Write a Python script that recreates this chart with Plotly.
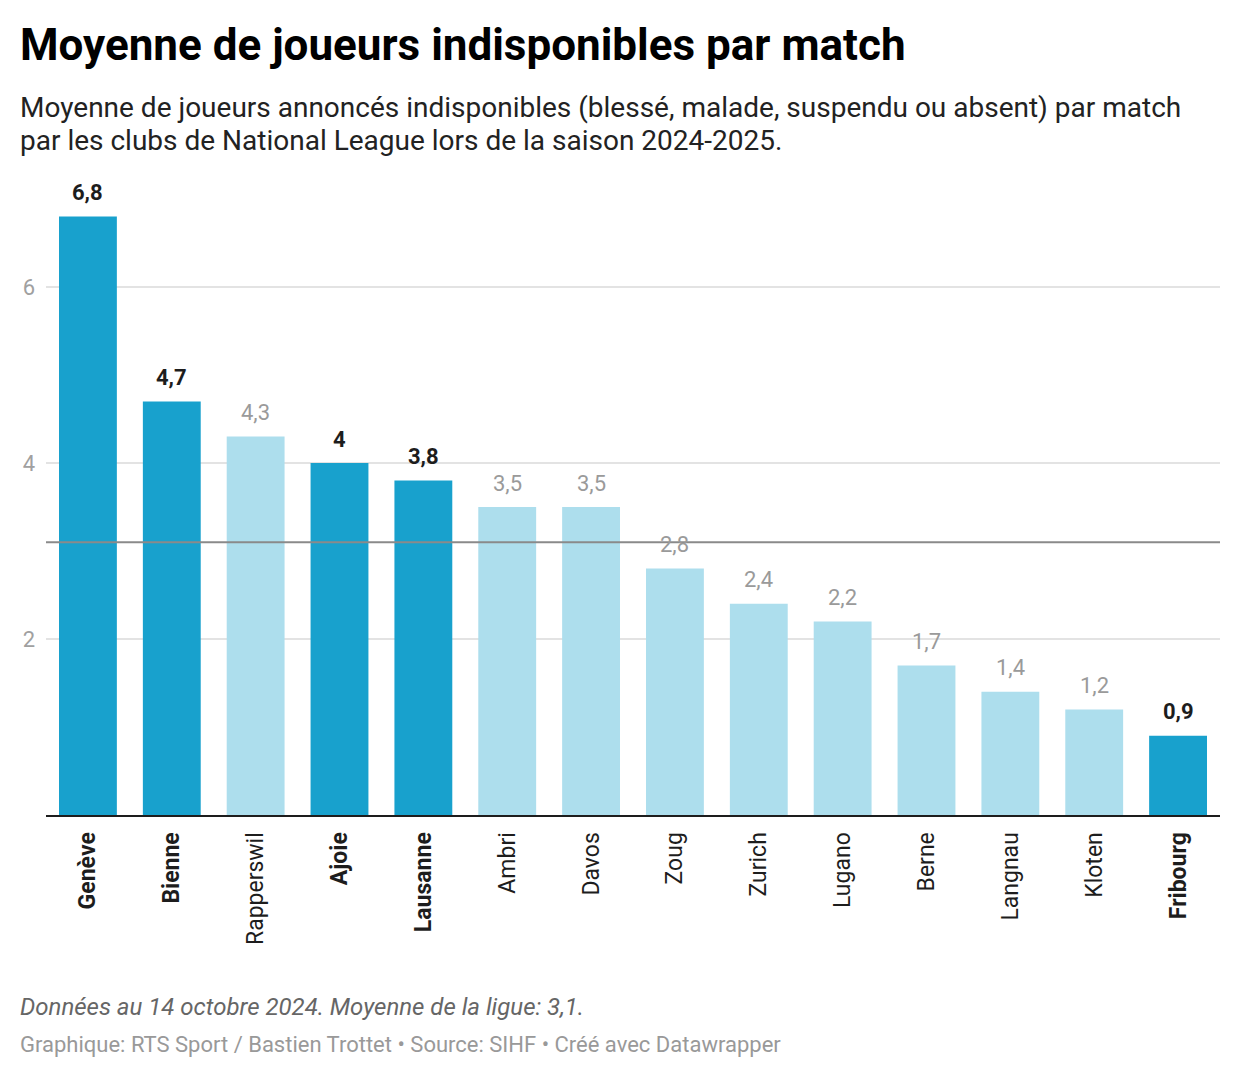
import plotly.graph_objects as go

clubs = ["Genève", "Bienne", "Rapperswil", "Ajoie", "Lausanne", "Ambri", "Davos",
         "Zoug", "Zurich", "Lugano", "Berne", "Langnau", "Kloten", "Fribourg"]
values = [6.8, 4.7, 4.3, 4.0, 3.8, 3.5, 3.5, 2.8, 2.4, 2.2, 1.7, 1.4, 1.2, 0.9]
highlight = [True, True, False, True, True, False, False,
             False, False, False, False, False, False, True]
league_mean = 3.1
y_ticks = [2, 4, 6]

DARK = "#18a1cd"
LIGHT = "#addeed"

def fmt(v):
    s = f"{v:.1f}".rstrip("0").rstrip(".")
    return s.replace(".", ",")

colors = [DARK if h else LIGHT for h in highlight]
ticktext = [f"<b>{c}</b>" if h else c for c, h in zip(clubs, highlight)]

fig = go.Figure()
fig.add_trace(go.Bar(
    x=clubs, y=values, marker_color=colors, marker_line_width=0,
    hoverinfo="skip",
))

fig.add_shape(type="line", xref="paper", yref="y", x0=0, x1=1,
              y0=league_mean, y1=league_mean,
              line=dict(color="#8a8a8a", width=2), layer="above")

# page offset (body margin) compensation
OFF = 8
W, H = 1240 - OFF, 1078 - OFF
L, R, T, B = 46 - OFF, 20, 199 - OFF, 263
ph = H - T - B
pw = W - L - R

def py(p):
    return (H - B - (p - OFF)) / ph

def px(p):
    return (p - OFF - L) / pw

annotations = []
for c, v, h in zip(clubs, values, highlight):
    annotations.append(dict(
        x=c, y=v, xref="x", yref="y", yshift=24, showarrow=False,
        xanchor="center", yanchor="middle",
        text=f"<b>{fmt(v)}</b>" if h else fmt(v),
        font=dict(family="Roboto", size=22, color="#1d1d1d" if h else "#9a9a9a"),
    ))

TX = 18
texts = [
    dict(text="<b>Moyenne de joueurs indisponibles par match</b>", x=px(TX), y=py(45),
         font=dict(family="Roboto", size=44, color="#000000")),
    dict(text="Moyenne de joueurs annoncés indisponibles (blessé, malade, suspendu ou absent) par match",
         x=px(TX), y=py(107), font=dict(family="Roboto", size=28, color="#222222")),
    dict(text="par les clubs de National League lors de la saison 2024-2025.",
         x=px(TX), y=py(140), font=dict(family="Roboto", size=28, color="#222222")),
    dict(text="<i>Données au 14 octobre 2024. Moyenne de la ligue: 3,1.</i>",
         x=px(TX), y=py(1007), font=dict(family="Roboto", size=24, color="#666666")),
    dict(text="Graphique: RTS Sport / Bastien Trottet • Source: SIHF • Créé avec Datawrapper",
         x=px(TX), y=py(1044), font=dict(family="Roboto", size=22, color="#999999")),
]
for a in texts:
    a.update(xref="paper", yref="paper", xanchor="left", yanchor="middle", showarrow=False)
annotations += texts

fig.update_layout(
    width=W, height=H,
    margin=dict(l=L, r=R, t=T, b=B),
    paper_bgcolor="white", plot_bgcolor="white",
    bargap=0.31,
    showlegend=False,
    font=dict(family="Roboto"),
    annotations=annotations,
    xaxis=dict(
        tickmode="array", tickvals=clubs, ticktext=ticktext,
        tickangle=-90, tickfont=dict(family="Roboto", size=23, color="#1d1d1d"),
        showline=True, linecolor="#1d1d1d", linewidth=2,
        showgrid=False, ticks="", ticklabelstandoff=6,
    ),
    yaxis=dict(
        range=[0, 7], tickvals=y_ticks, ticktext=[str(t) for t in y_ticks],
        showgrid=True, gridcolor="#e3e3e3", gridwidth=1.5,
        zeroline=False, showline=False, ticks="",
        tickfont=dict(family="Roboto", size=22, color="#a0a0a0"),
        ticklabelstandoff=10,
    ),
)

fig.write_html("out.html")
